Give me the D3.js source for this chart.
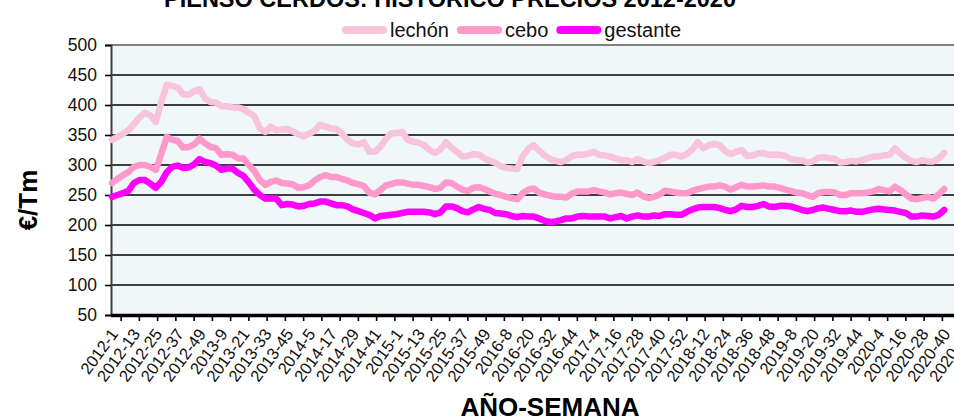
<!DOCTYPE html>
<html>
<head>
<meta charset="utf-8">
<script src="https://cdn.jsdelivr.net/npm/d3@7"></script>
<style>
  body { margin: 0; background: #fff; }
  svg { display: block; font-family: "Liberation Sans", Arial, sans-serif; }
</style>
</head>
<body>
<svg id="chart" width="954" height="416"></svg>
<script>
// semanas desde 2012-1, una muestra cada 3 semanas
const weeks = d3.range(0, 457, 3);

const lechon = [342,347,352,358,368,379,387,383,372,405,
  434,432,429,418,417,423,426,411,405,404,
  398,398,396,396,393,387,381,361,355,364,
  358,359,360,356,351,348,352,357,367,364,
  361,360,352,342,336,334,338,322,322,330,
  343,353,353,355,342,339,337,333,325,320,
  326,338,329,322,314,315,318,317,311,307,
  304,298,295,294,293,314,327,333,324,316,
  310,307,305,308,315,317,317,319,322,317,
  316,314,311,308,308,305,310,306,303,305,
  308,312,317,317,314,318,326,338,328,333,
  335,333,323,318,322,325,315,316,319,320,
  317,317,317,315,310,308,308,304,306,312,
  313,311,311,304,305,307,306,308,311,314,
  314,316,317,328,319,312,307,305,308,306,
  306,311,320];

const cebo = [270,277,283,288,297,300,300,297,292,318,
  347,342,340,329,330,334,344,336,330,328,
  317,318,317,311,311,300,290,275,267,272,
  274,270,269,268,262,263,266,274,280,283,
  280,280,277,274,270,268,265,254,251,258,
  266,268,271,271,269,267,267,265,263,260,
  262,271,270,264,259,257,262,263,260,256,
  252,250,247,245,243,253,259,261,254,251,
  249,247,247,246,252,256,256,256,258,256,
  254,251,253,254,252,250,254,248,245,247,
  251,257,256,254,253,253,257,260,262,264,
  264,266,264,259,263,267,264,264,265,266,
  264,264,262,259,257,254,253,250,247,253,
  255,255,254,250,250,253,253,253,254,256,
  260,258,256,264,258,251,244,243,245,247,
  244,251,260];

const gestante = [247,250,253,257,270,275,275,269,262,272,
  288,297,299,295,296,301,310,305,303,299,
  292,294,294,287,282,271,259,250,244,244,
  244,233,235,234,231,232,235,236,239,239,
  236,233,233,231,226,223,220,217,211,215,
  216,217,218,220,222,222,222,222,221,218,
  221,231,231,228,223,221,226,230,227,225,
  220,219,218,215,213,215,214,214,211,207,
  205,206,208,211,211,214,215,214,214,214,
  214,211,213,215,211,214,216,214,214,216,
  215,218,218,217,217,222,226,229,230,230,
  230,228,225,223,226,232,230,230,232,235,
  231,230,232,232,231,228,225,223,225,228,
  229,227,225,223,223,224,222,222,224,226,
  227,226,225,224,222,220,214,214,216,215,
  214,217,225];

const xLabels = ["2012-1","2012-13","2012-25","2012-37","2012-49","2013-9","2013-21","2013-33","2013-45",
  "2014-5","2014-17","2014-29","2014-41","2015-1","2015-13","2015-25","2015-37","2015-49",
  "2016-8","2016-20","2016-32","2016-44","2017-4","2017-16","2017-28","2017-40","2017-52",
  "2018-12","2018-24","2018-36","2018-48","2019-8","2019-20","2019-32","2019-44",
  "2020-4","2020-16","2020-28","2020-40","2020-52"];
const labelStep = 12; // una etiqueta cada 12 semanas
const yTicks = [50,100,150,200,250,300,350,400,450,500];

const series = [
  { name: "lechón", values: lechon, color: "#f8c4dc" },
  { name: "cebo", values: cebo, color: "#ff99cc" },
  { name: "gestante", values: gestante, color: "#ff00ff" }
];

const svg = d3.select("#chart");
const plotLeft = 111, plotRight = 960, plotTop = 45, plotBottom = 315;

const x = d3.scaleLinear().domain([0, 456]).range([112, 944.2]);
const y = d3.scaleLinear().domain([50, 500]).range([plotBottom, plotTop]);

// fondo del area de trazado
svg.append("rect")
  .attr("x", plotLeft).attr("y", plotTop)
  .attr("width", plotRight - plotLeft).attr("height", plotBottom - plotTop)
  .attr("fill", "#eff7f9");

// lineas de rejilla
svg.append("g")
  .selectAll("line")
  .data(yTicks.filter(d => d > 50 && d < 500))
  .join("line")
    .attr("x1", plotLeft).attr("x2", plotRight)
    .attr("y1", d => y(d)).attr("y2", d => y(d))
    .attr("stroke", "#000").attr("stroke-width", 1.6);

svg.append("line")
  .attr("x1", plotLeft).attr("x2", plotRight)
  .attr("y1", plotTop).attr("y2", plotTop)
  .attr("stroke", "#808080").attr("stroke-width", 2);

// eje Y
const yAxis = svg.append("g")
  .attr("transform", "translate(" + plotLeft + ",0)")
  .call(d3.axisLeft(y).tickValues(yTicks).tickSize(6).tickPadding(8));
yAxis.select(".domain").attr("stroke", "#404040").attr("stroke-width", 2);
yAxis.selectAll(".tick line").attr("stroke", "#000").attr("stroke-width", 1.6);
yAxis.selectAll("text")
  .attr("font-size", 17.5).attr("fill", "#111")
  .style("font-family", "'Liberation Sans', Arial, sans-serif");

// series
const line = d3.line()
  .x((d, i) => x(weeks[i]))
  .y(d => y(d));

svg.append("g")
  .selectAll("path")
  .data(series)
  .join("path")
    .attr("d", d => line(d.values))
    .attr("fill", "none")
    .attr("stroke", d => d.color)
    .attr("stroke-width", 6.5)
    .attr("stroke-linejoin", "round")
    .attr("stroke-linecap", "round");

// eje X
svg.append("line")
  .attr("x1", plotLeft).attr("x2", plotRight)
  .attr("y1", plotBottom + 0.5).attr("y2", plotBottom + 0.5)
  .attr("stroke", "#000").attr("stroke-width", 3.5);

svg.append("g")
  .selectAll("line")
  .data(d3.range(5, 470, 10))
  .join("line")
    .attr("x1", d => x(d)).attr("x2", d => x(d))
    .attr("y1", plotBottom).attr("y2", plotBottom + 6)
    .attr("stroke", "#000").attr("stroke-width", 1.6);

svg.append("g")
  .selectAll("text")
  .data(xLabels)
  .join("text")
    .attr("transform", (d, i) => "translate(" + (x(i * labelStep) + 7) + "," + (plotBottom + 19) + ") rotate(-54)")
    .attr("text-anchor", "end")
    .attr("font-size", 16.5)
    .attr("fill", "#111")
    .text(d => d);

// titulos
svg.append("text")
  .attr("x", 450).attr("y", 7)
  .attr("text-anchor", "middle")
  .attr("font-size", 23.5).attr("font-weight", "bold")
  .text("PIENSO CERDOS: HISTÓRICO PRECIOS 2012-2020");

svg.append("text")
  .attr("transform", "translate(37,200) rotate(-90)")
  .attr("text-anchor", "middle")
  .attr("font-size", 26).attr("font-weight", "bold")
  .text("€/Tm");

svg.append("text")
  .attr("x", 550).attr("y", 416)
  .attr("text-anchor", "middle")
  .attr("font-size", 26).attr("font-weight", "bold")
  .text("AÑO-SEMANA");

// leyenda
const legend = svg.append("g");
let lx = 342;
series.forEach(s => {
  legend.append("line")
    .attr("x1", lx + 4).attr("x2", lx + 41)
    .attr("y1", 30).attr("y2", 30)
    .attr("stroke", s.color).attr("stroke-width", 8)
    .attr("stroke-linecap", "round");
  const t = legend.append("text")
    .attr("x", lx + 48).attr("y", 37)
    .attr("font-size", 20).attr("fill", "#111")
    .text(s.name);
  lx += 48 + t.node().getComputedTextLength() + 8;
});
</script>
</body>
</html>
